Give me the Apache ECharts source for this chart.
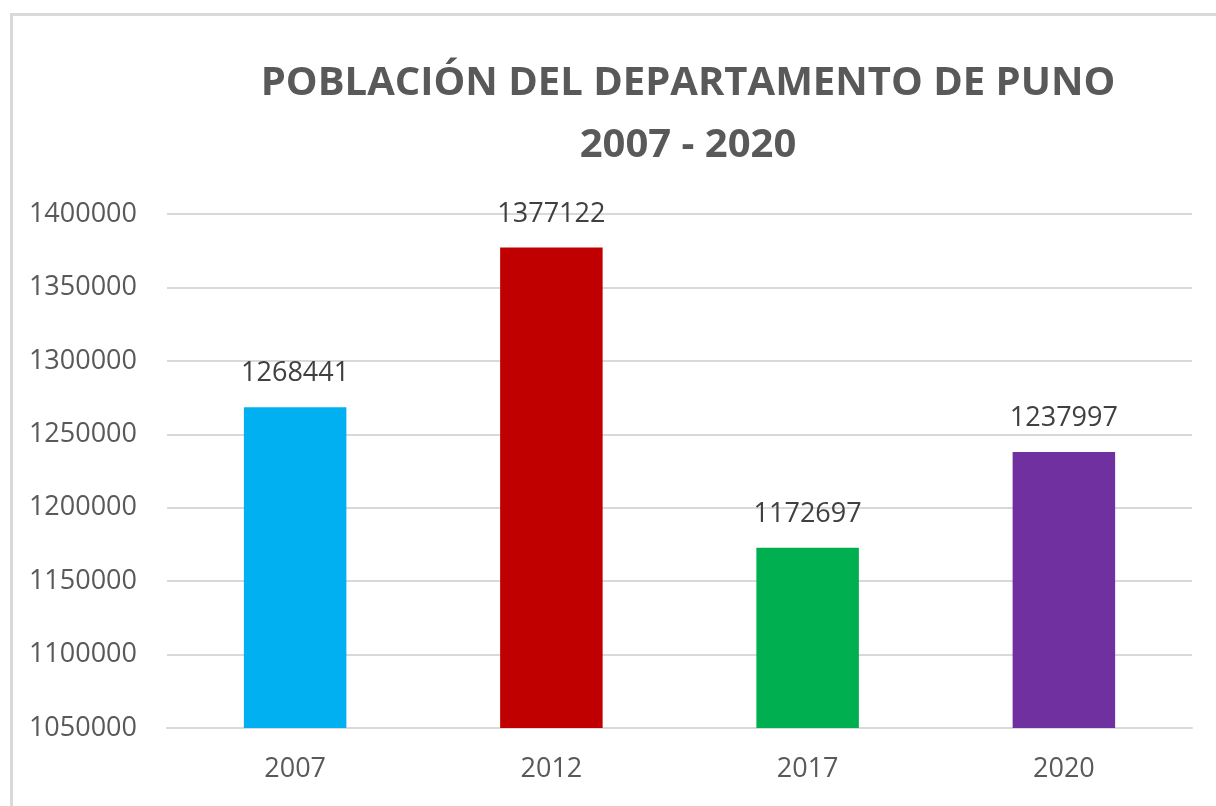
<!DOCTYPE html>
<html>
<head>
<meta charset="utf-8">
<script src="https://cdn.jsdelivr.net/npm/echarts@6/dist/echarts.min.js"></script>
<style>
  html, body { margin: 0; padding: 0; background: #fff; }
  #chart { width: 1216px; height: 806px; }
</style>
</head>
<body>
<div id="chart"></div>
<script>
// data
const years = ["2007", "2012", "2017", "2020"];
const population = [1268441, 1377122, 1172697, 1237997];
const barColors = ["#00B0F0", "#C00000", "#00B050", "#7030A0"];
const titleLines = ["POBLACIÓN DEL DEPARTAMENTO DE PUNO", "2007 - 2020"];

const myChart = echarts.init(document.getElementById("chart"));

const option = {
  backgroundColor: "#ffffff",
  animation: false,
  title: {
    text: titleLines.join("\n"),
    left: 683,
    top: 48,
    textAlign: "center",
    textStyle: {
      color: "#595959",
      fontFamily: "Open Sans",
      fontWeight: "bold",
      fontSize: 40,
      lineHeight: 62
    }
  },
  graphic: [
    {
      type: "rect",
      left: 9,
      top: 12,
      shape: { width: 1230, height: 820 },
      style: { fill: "none", stroke: "#d9d9d9", lineWidth: 3 },
      silent: true
    }
  ],
  grid: {
    left: 167,
    right: 24,
    top: 214,
    bottom: 78
  },
  xAxis: {
    type: "category",
    data: years,
    axisTick: { show: false },
    axisLine: { show: true, lineStyle: { color: "#d9d9d9", width: 2 } },
    axisLabel: {
      color: "#595959",
      fontFamily: "Open Sans",
      fontSize: 27,
      margin: 28
    }
  },
  yAxis: {
    type: "value",
    min: 1050000,
    max: 1400000,
    interval: 50000,
    axisLine: { show: false },
    axisTick: { show: false },
    axisLabel: {
      color: "#595959",
      fontFamily: "Open Sans",
      fontSize: 27,
      margin: 30,
      formatter: function (v) { return String(v); }
    },
    splitLine: { lineStyle: { color: "#d9d9d9", width: 2 } }
  },
  series: [
    {
      type: "bar",
      barWidth: "40%",
      data: population.map(function (v, i) {
        return { value: v, itemStyle: { color: barColors[i] } };
      }),
      label: {
        show: true,
        position: "top",
        distance: 20,
        color: "#404040",
        fontFamily: "Open Sans",
        fontSize: 27
      }
    }
  ]
};

myChart.setOption(option);
</script>
</body>
</html>
